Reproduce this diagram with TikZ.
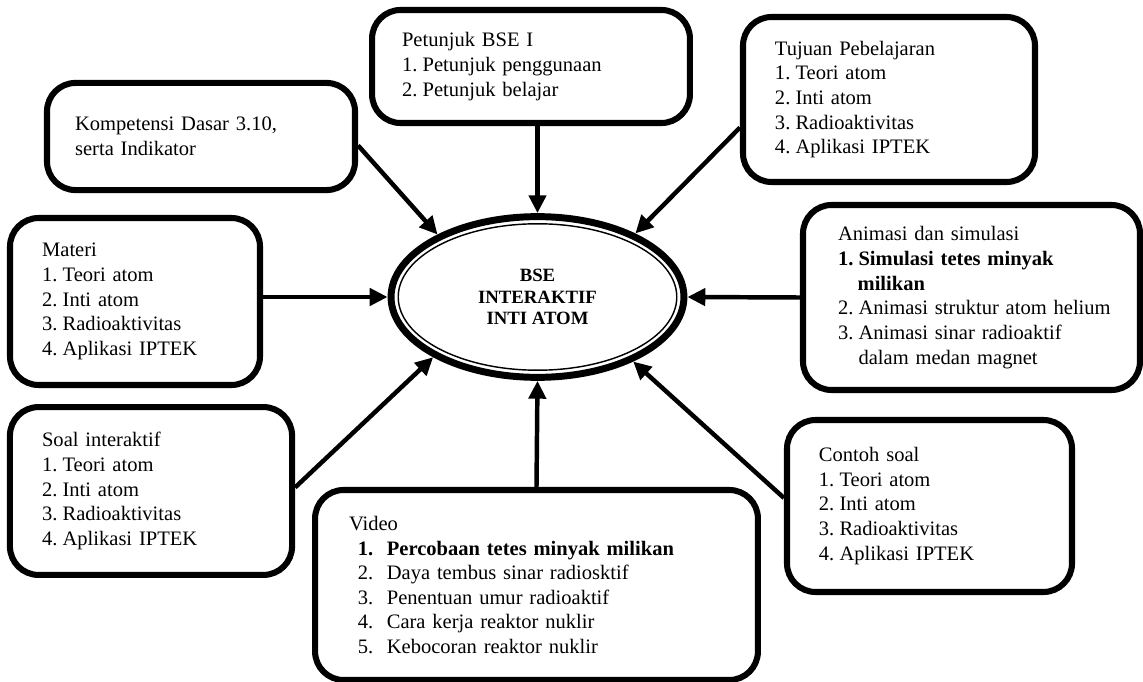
\documentclass[tikz,border=0pt]{standalone}
\usepackage{fontspec}
\setmainfont{Liberation Serif}
\usetikzlibrary{positioning, shapes.geometric, arrows.meta}

\newcommand{\itm}[2]{\mbox{\makebox[11.5pt][l]{#1}#2}}
\newcommand{\vitm}[2]{\mbox{\hspace*{5pt}\makebox[16.2pt][l]{#1}#2}}

\begin{document}
\begin{tikzpicture}[x=0.56pt, y=-0.56pt,
    box/.style={draw, line width=3.4pt, rounded corners=16pt, align=left, inner sep=0pt,
                font=\fontsize{11.5}{13.8}\selectfont},
    hub/.style={ellipse, draw, line width=3.9pt, minimum width=164pt, minimum height=90pt,
                align=center, font=\fontsize{10.5}{12}\selectfont\bfseries},
    link/.style={line width=2.5pt, -{Triangle[length=10pt, width=9.5pt]}}]
  \useasboundingbox (0,0) rectangle (1143,682);

  \node[hub] (c) at (537.5,297) {BSE\\INTERAKTIF\\INTI ATOM};
  \draw[line width=0.8pt] (c.center) ellipse (78pt and 41pt);

  \node[box, minimum width=178pt, minimum height=63.3pt, text width=144.4pt] (p) at (531,66.5)
    {Petunjuk BSE I\\ \itm{1.}{Petunjuk penggunaan}\\ \itm{2.}{Petunjuk belajar}};
  \node[box, minimum width=172.5pt, minimum height=60pt, text width=141pt] (k) at (201,136.5)
    {Kompetensi Dasar 3.10,\\ serta Indikator};
  \node[box, minimum width=163.5pt, minimum height=92.4pt, text width=127.7pt] (t) at (889,99.5)
    {Tujuan Pebelajaran\\ \itm{1.}{Teori atom}\\ \itm{2.}{Inti atom}\\
     \itm{3.}{Radioaktivitas}\\ \itm{4.}{Aplikasi IPTEK}};
  \node[box, minimum width=140pt, minimum height=93.5pt, text width=104pt] (m) at (135,301.5)
    {Materi\\ \itm{1.}{Teori atom}\\ \itm{2.}{Inti atom}\\
     \itm{3.}{Radioaktivitas}\\ \itm{4.}{Aplikasi IPTEK}};
  \node[box, minimum width=188.7pt, minimum height=103.6pt, text width=149.5pt] (a) at (971.5,297.5)
    {Animasi dan simulasi\\ \textbf{\itm{1.}{Simulasi tetes minyak}}\\
     \textbf{\hspace*{11pt}milikan}\\ \itm{2.}{Animasi struktur atom helium}\\
     \itm{3.}{Animasi sinar radioaktif}\\ \hspace*{11.5pt}dalam medan magnet};
  \node[box, minimum width=158pt, minimum height=94pt, text width=122pt] (s) at (151,491)
    {Soal interaktif\\ \itm{1.}{Teori atom}\\ \itm{2.}{Inti atom}\\
     \itm{3.}{Radioaktivitas}\\ \itm{4.}{Aplikasi IPTEK}};
  \node[box, minimum width=159.6pt, minimum height=96.3pt, text width=123.8pt] (ct) at (929.5,506)
    {Contoh soal\\ \itm{1.}{Teori atom}\\ \itm{2.}{Inti atom}\\
     \itm{3.}{Radioaktivitas}\\ \itm{4.}{Aplikasi IPTEK}};
  \node[box, minimum width=248pt, minimum height=106.4pt, text width=210pt] (v) at (536.5,585)
    {Video\\ \textbf{\vitm{1.}{Percobaan tetes minyak milikan}}\\
     \vitm{2.}{Daya tembus sinar radiosktif}\\ \vitm{3.}{Penentuan umur radioaktif}\\
     \vitm{4.}{Cara kerja reaktor nuklir}\\ \vitm{5.}{Kebocoran reaktor nuklir}};

  % arrows into the centre
  \draw[link] (c.north |- p.south) -- (c.north);
  \draw[link] ([yshift=-5pt]k.east) -- (c.148);
  \draw[link] ([yshift=-15.7pt]t.west) -- (c.33);
  \draw[link] (m.east |- c.west) -- (c.west);
  \draw[link] (a.west) -- (c.east);
  \draw[link] ([yshift=2pt]s.east) -- (c.210);
  \draw[link] ([yshift=4.5pt]ct.west) -- (c.326);
  \draw[link] (v.north) -- (c.south);
\end{tikzpicture}
\end{document}
